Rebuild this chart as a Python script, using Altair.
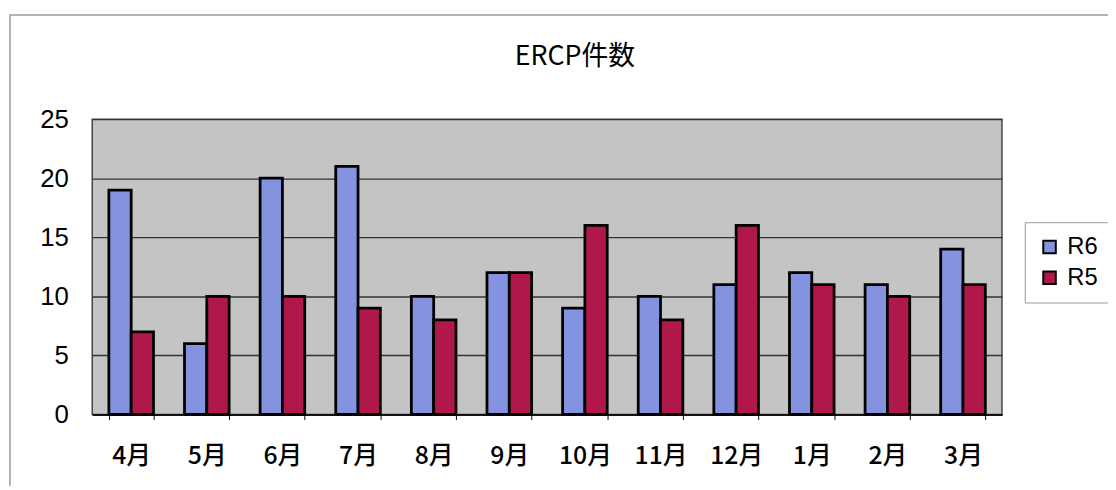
import altair as alt
import pandas as pd

months = ["4月", "5月", "6月", "7月", "8月", "9月", "10月", "11月", "12月", "1月", "2月", "3月"]
r6 = [19, 6, 20, 21, 10, 12, 9, 10, 11, 12, 11, 14]
r5 = [7, 10, 10, 9, 8, 12, 16, 8, 16, 11, 10, 11]
series = ["R6", "R5"]
colors = ["#8393E0", "#B0184A"]
title_text = "ERCP件数"

rows = []
for i, m in enumerate(months):
    rows.append({"month": m, "series": "R6", "value": r6[i]})
    rows.append({"month": m, "series": "R5", "value": r5[i]})
df = pd.DataFrame(rows)

FONT = "Liberation Sans"
JFONT = "Noto Sans CJK JP"

bars = alt.Chart(df).mark_bar(stroke="black", strokeWidth=2.8, clip=False).encode(
    x=alt.X("month:N", sort=months,
            scale=alt.Scale(paddingInner=0.41, paddingOuter=0.22),
            axis=alt.Axis(title=None, labelAngle=0, labelFont=JFONT, labelFontSize=25,
                          labelFontWeight=500,
                          labelColor="black", labelPadding=24, tickBand="extent",
                          tickSize=5, tickColor="black", domainColor="black",
                          domainWidth=1.5)),
    xOffset=alt.XOffset("series:N", sort=series),
    y=alt.Y("value:Q", scale=alt.Scale(domain=[0, 25]),
            axis=alt.Axis(title=None, values=[0, 5, 10, 15, 20, 25], labelFont=FONT,
                          labelFontSize=26, labelColor="black", labelPadding=24,
                          ticks=False, domain=False, gridColor="#333333",
                          gridWidth=1.4)),
    color=alt.Color("series:N", sort=series,
                    scale=alt.Scale(domain=series, range=colors),
                    legend=alt.Legend(title=None, orient="none", legendX=941, legendY=104,
                                      symbolType="square", symbolSize=160,
                                      symbolStrokeColor="black", symbolStrokeWidth=2,
                                      labelFont=FONT, labelFontSize=24, labelColor="black",
                                      labelOffset=6,
                                      rowPadding=7, padding=13, strokeColor="#999999",
                                      fillColor="white")),
)

border = alt.Chart(pd.DataFrame({"a": [0]})).mark_rect(
    fill=None, stroke="#9a9a9a", strokeWidth=1.5, clip=False
).encode(x=alt.value(-83), x2=alt.value(1125), y=alt.value(-105), y2=alt.value(400))

title = alt.Chart(pd.DataFrame({"t": [title_text]})).mark_text(
    font=JFONT, fontSize=27, color="black", align="center", baseline="middle"
).encode(text="t:N", x=alt.value(487), y=alt.value(-63))

chart = alt.layer(border, bars, title).properties(
    width=918, height=298,
    autosize=alt.AutoSizeParams(type="none"),
    padding={"left": 85, "top": 110, "right": 107, "bottom": 70},
).configure_view(
    fill="#C4C4C4", stroke="#444444", strokeWidth=1.5
)

chart.save("out.html", embed_options={"renderer": "svg", "actions": False})
